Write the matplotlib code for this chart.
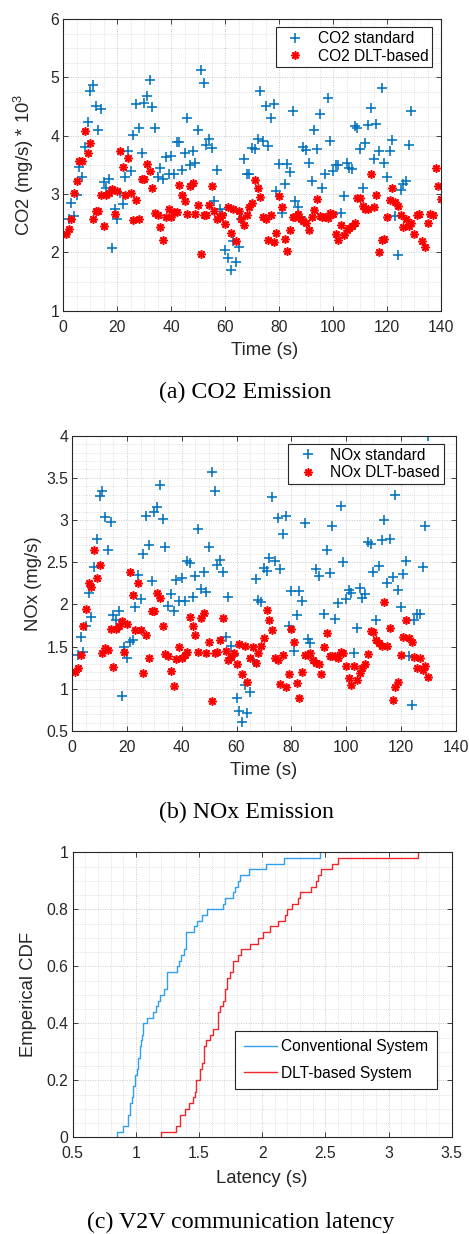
import numpy as np
import matplotlib
matplotlib.use('Agg')
import matplotlib.pyplot as plt
from matplotlib.ticker import MultipleLocator, FuncFormatter

plt.rcParams['font.family'] = ['Liberation Sans', 'DejaVu Sans']
plt.rcParams['mathtext.default'] = 'regular'

nan = float('nan')

# ---------------- (a) CO2 emission ----------------
t_co2_std = np.arange(2, 130)
co2_std = [2.57, 2.84, 2.63, 2.98, 3.47, 3.29, 3.81, 4.23, 4.77, 4.87,
           4.51, 4.09, 4.45, 3.20, 3.10, 3.25, 2.07, 2.74, 2.57, 3.02,
           2.83, 3.29, 3.73, 3.39, 4.01, 4.55, 4.13, 3.71, 4.56, 4.68,
           4.95, 4.49, 4.13, 3.29, 3.45, 3.25, 3.63, 3.34, 3.65, 3.34,
           3.89, 3.89, 3.42, 3.70, 4.31, 3.49, 3.74, 3.54, 4.10, 5.13,
           4.90, 3.84, 3.94, 3.79, 2.88, 3.41, 2.74, 2.65, 2.04, 1.91,
           1.69, 2.19, 1.84, 2.09, 2.57, 3.60, 3.35, 3.34, 3.79, 3.78,
           3.95, 4.77, 3.91, 4.51, 3.82, 4.30, 4.55, 3.06, 3.51, 2.67,
           3.17, 3.51, 3.37, 4.42, 2.88, 2.78, 2.61, 3.81, 3.75, 3.53,
           3.23, 4.09, 3.77, 4.37, 3.11, 3.34, 4.64, 3.91, 3.40, 3.50,
           3.49, 2.67, 2.97, 3.53, 3.44, 3.43, 4.17, 4.13, 3.77, 3.11,
           3.87, 4.19, 4.48, 3.60, 4.20, 3.74, 4.82, 3.53, 3.30, 3.74,
           3.93, 2.62, 1.95, 3.07, 3.17, 3.23, 3.84, 4.42]

t_co2_dlt = np.arange(1, 141)
co2_dlt = [2.32, 2.40, 2.57, 3.01, 3.23, 3.57, 3.57, 4.08, 3.71, 3.87,
           2.57, 2.71, 2.71, 2.98, 2.46, 2.98, 3.01, 3.08, 2.65, 3.05,
           3.74, 3.46, 2.98, 3.61, 3.01, 2.55, 2.89, 2.58, 3.25, 3.25,
           3.52, 3.40, 3.10, 2.67, 2.64, 2.44, 2.21, 2.60, 2.75, 2.60,
           2.70, 2.69, 3.16, 2.99, 2.88, 2.65, 3.13, 3.19, 2.65, 2.81,
           1.97, 2.64, 2.64, 2.82, 3.13, 2.71, 2.58, 2.60, 2.64, 2.48,
           2.77, 2.34, 2.75, 2.20, 2.71, 2.57, 2.47, 2.64, 2.77, 2.85,
           3.24, 3.10, 2.95, 2.60, 2.58, 2.21, 2.64, 2.17, 2.34, 2.97,
           2.78, 2.23, 2.02, 2.39, 2.61, 2.61, 2.65, 2.57, 2.53, 2.50,
           2.38, 2.61, 2.73, 2.91, 2.62, 2.60, 2.60, 2.59, 2.67, 2.66,
           2.31, 2.21, 2.47, 2.29, 2.38, 2.41, 2.46, 2.51, 2.93, 2.93,
           2.79, 2.75, 2.74, 3.34, 2.77, 2.98, 2.01, 2.21, 2.23, 2.61,
           2.90, 3.11, 2.86, 2.79, 2.64, 2.44, 2.58, 2.46, 2.50, 2.31,
           2.64, 2.65, 2.19, 2.10, 2.51, 2.66, 2.64, 3.44, 3.13, 2.91]

# ---------------- (b) NOx emission ----------------
t_nox_std = np.arange(2, 131)
nox_std = [1.40, 1.62, 1.44, 1.74, 2.14, 1.85, 2.44, 2.78, 3.29, 3.34,
           3.04, 2.65, 2.98, 1.87, 1.81, 1.92, 0.92, 1.50, 1.36, 1.55,
           1.58, 1.97, 2.35, 2.07, 2.60, 3.05, 2.70, 2.28, 3.10, 3.15,
           3.41, 3.01, 2.68, 1.98, 2.12, 1.92, 2.29, 2.04, 2.31, 2.04,
           2.51, 2.49, 2.09, 2.34, 2.89, 2.18, 2.38, 2.15, 2.68, 3.57,
           3.34, 2.47, 2.53, 2.39, 1.61, 2.09, 1.51, 1.40, 0.89, 0.74,
           0.61, 1.05, 0.71, 0.96, 1.34, 2.30, 2.05, 2.03, 2.43, 2.40,
           2.55, 3.27, 2.51, 3.03, 2.42, 2.83, 3.05, 1.75, 2.16, 1.45,
           1.88, 2.16, 2.04, 2.97, 1.59, 1.54, nan, 2.42, 2.34, nan,
           1.89, 2.64, 2.37, 2.93, 1.83, 2.02, 3.17, 2.50, 2.06, 2.17,
           2.14, 1.43, 1.72, 2.20, 2.08, 2.12, 2.74, 2.72, 2.38, 1.82,
           2.46, 2.76, 3.00, 2.25, 2.78, 2.33, 3.30, 2.17, 1.97, 2.36,
           2.51, 1.39, 0.81, 1.81, 1.89, 1.89, 2.44, 2.93, 4.00]

t_nox_dlt = np.arange(1, 131)
nox_dlt = [1.20, 1.25, 1.40, 1.75, 1.95, 2.25, 2.21, 2.64, 2.31, 2.47,
           1.43, 1.48, 1.46, 1.71, 1.26, 1.71, 1.75, 1.80, 1.44, 1.77,
           2.38, 2.11, 1.70, 2.26, 1.70, 1.19, 1.64, 1.37, 1.92, 1.92,
           2.14, 2.08, 1.75, 1.41, 1.39, 1.21, 1.03, 1.35, 1.50, 1.36,
           1.40, 1.44, 1.85, 1.74, 1.64, 1.44, 1.84, 1.90, 1.43, 1.55,
           0.85, 1.42, 1.44, 1.58, 1.84, 1.45, 1.34, 1.38, 1.43, 1.29,
           1.53, 1.17, 1.51, 1.08, 1.36, 1.49, 1.31, 1.43, 1.51, 1.60,
           1.94, 1.81, 1.70, 1.36, 1.34, 1.06, 1.40, 1.02, 1.18, 1.71,
           1.55, 1.07, 0.89, 1.20, 1.40, 1.40, 1.42, 1.34, 1.31, 1.29,
           1.18, 1.50, 1.66, 1.39, 1.39, 1.39, 1.37, 1.44, 1.42, 1.27,
           1.13, 1.05, 1.27, 1.11, 1.19, 1.25, 1.30, 1.41, 1.68, 1.67,
           1.58, 1.54, 1.51, 2.03, 1.51, 1.72, 0.87, 1.02, 1.08, 1.40,
           1.62, 1.81, 1.60, 1.55, 1.38, 1.25, 1.36, 1.22, 1.27, 1.14]

# ---------------- (c) V2V latency samples ----------------
lat_conv = [0.854, 0.897, 0.934, 0.934, 0.955, 0.955, 0.968, 0.981, 0.981, 0.995,
            0.995, 1.008, 1.020, 1.020, 1.030, 1.030, 1.040, 1.047, 1.056, 1.056,
            1.090, 1.132, 1.156, 1.172, 1.193, 1.220, 1.246, 1.246, 1.246, 1.325,
            1.339, 1.357, 1.378, 1.400, 1.400, 1.400, 1.458, 1.484, 1.524, 1.563,
            1.690, 1.709, 1.770, 1.788, 1.807, 1.828, 1.898, 2.034, 2.171, 2.457]
lat_dlt = [1.201, 1.320, 1.352, 1.352, 1.388, 1.420, 1.455, 1.468, 1.479, 1.479,
           1.505, 1.505, 1.524, 1.542, 1.542, 1.542, 1.558, 1.585, 1.611, 1.648,
           1.648, 1.648, 1.669, 1.690, 1.706, 1.706, 1.722, 1.722, 1.749, 1.765,
           1.765, 1.810, 1.834, 1.900, 1.963, 2.007, 2.065, 2.124, 2.179, 2.200,
           2.237, 2.280, 2.303, 2.383, 2.423, 2.441, 2.462, 2.555, 2.600, 3.230]

# ---------------- figure ----------------
W, H = 469, 1234
fig = plt.figure(figsize=(W / 100, H / 100), dpi=100)
AX_C = '#262626'
TICK_FS = 11.3
LAB_FS = 13.3
LEG_FS = 11.2
CAP_FS = 17.2
BLUE = '#0072BD'


def axes_px(l, t, r, b):
    return fig.add_axes([l / W, 1 - b / H, (r - l) / W, (b - t) / H])


gfmt = FuncFormatter(lambda v, p: f'{v:g}')


def style(ax, xmaj, xmin, ymaj, ymin):
    ax.xaxis.set_major_locator(MultipleLocator(xmaj))
    ax.xaxis.set_minor_locator(MultipleLocator(xmin))
    ax.yaxis.set_major_locator(MultipleLocator(ymaj))
    ax.yaxis.set_minor_locator(MultipleLocator(ymin))
    ax.xaxis.set_major_formatter(gfmt)
    ax.yaxis.set_major_formatter(gfmt)
    ax.set_axisbelow(True)
    ax.grid(which='major', color='#c8c8c8', linestyle=(0, (1, 1.5)), linewidth=0.7)
    ax.grid(which='minor', color='#d6d6d6', linestyle=(0, (1, 1.5)), linewidth=0.6)
    ax.tick_params(which='major', direction='in', length=3.4, width=0.6,
                   top=True, right=True, labelsize=TICK_FS, colors=AX_C)
    ax.tick_params(which='minor', length=0, top=True, right=True)
    ax.tick_params(axis='x', pad=6.5)
    ax.tick_params(axis='y', pad=3)
    for s in ax.spines.values():
        s.set_color(AX_C)
        s.set_linewidth(0.8)


def legend(ax, anchor, **kw):
    leg = ax.legend(loc='upper left', bbox_to_anchor=anchor, borderaxespad=0,
                    fontsize=LEG_FS, frameon=True, fancybox=False, edgecolor=AX_C,
                    framealpha=1, numpoints=1, **kw)
    leg.get_frame().set_linewidth(0.8)
    for txt in leg.get_texts():
        txt.set_color('black')
    return leg


# (a)
ax1 = axes_px(63.3, 19, 441, 310.7)
style(ax1, 20, 5, 1, 0.25)
ax1.plot(t_co2_std, co2_std, ls='none', marker='+', ms=6.5, mew=1.15,
         color=BLUE, label='CO2 standard')
ax1.plot(t_co2_dlt, co2_dlt, ls='none', marker=(8, 2, 0), ms=6.0, mew=1.15,
         color='red', label='CO2 DLT-based')
ax1.set_xlim(0, 140)
ax1.set_ylim(1, 6)
ax1.set_xlabel('Time (s)', fontsize=LAB_FS, color=AX_C)
ax1.xaxis.set_label_coords(0.534, -0.107)
ax1.set_ylabel('CO2 (mg/s) * 10$^3$', fontsize=LAB_FS, color=AX_C)
ax1.yaxis.set_label_coords(-0.072, 0.5)
legend(ax1, (0.5623, 0.9716), borderpad=0.25, handlelength=2.0,
       handletextpad=0.45, labelspacing=0.15)

# (b)
ax2 = axes_px(72.3, 435.7, 455.5, 731)
style(ax2, 20, 5, 0.5, 0.1)
ax2.plot(t_nox_std, nox_std, ls='none', marker='+', ms=6.5, mew=1.15,
         color=BLUE, label='NOx standard')
ax2.plot(t_nox_dlt, nox_dlt, ls='none', marker=(8, 2, 0), ms=6.0, mew=1.15,
         color='red', label='NOx DLT-based')
ax2.set_xlim(0, 140)
ax2.set_ylim(0.5, 4)
ax2.set_xlabel('Time (s)', fontsize=LAB_FS, color=AX_C)
ax2.xaxis.set_label_coords(0.5, -0.105)
ax2.set_ylabel('NOx (mg/s)', fontsize=LAB_FS, color=AX_C)
ax2.yaxis.set_label_coords(-0.079, 0.5)
legend(ax2, (0.5637, 0.9719), borderpad=0.25, handlelength=2.0,
       handletextpad=0.45, labelspacing=0.15)

# (c)
ax3 = axes_px(72.7, 852.3, 451.7, 1137.3)
style(ax3, 0.5, 0.1, 0.2, 0.05)


def ecdf_step(ax, samples, **kw):
    x = np.sort(np.asarray(samples))
    y = np.arange(1, len(x) + 1) / len(x)
    xs = np.concatenate([[x[0]], x])
    ys = np.concatenate([[0.0], y])
    ax.step(xs, ys, where='post', **kw)


ecdf_step(ax3, lat_conv, color='#2f9ff2', lw=1.0, label='Conventional System')
ecdf_step(ax3, lat_dlt, color='#f0262a', lw=1.0, label='DLT-based System')
ax3.set_xlim(0.5, 3.5)
ax3.set_ylim(0, 1)
ax3.set_xlabel('Latency (s)', fontsize=LAB_FS, color=AX_C)
ax3.xaxis.set_label_coords(0.5, -0.115)
ax3.set_ylabel('Emperical CDF', fontsize=LAB_FS, color=AX_C)
ax3.yaxis.set_label_coords(-0.093, 0.5)
legend(ax3, (0.4282, 0.374), borderpad=0.55, handlelength=2.15,
       handletextpad=0.25, labelspacing=0.75)

# captions
cap = dict(ha='center', va='center', family=['Liberation Serif', 'DejaVu Serif'],
           fontsize=CAP_FS, color='black')
fig.text(244.7 / W, 1 - 392.3 / H, '(a) CO2 Emission', **cap)
fig.text(246 / W, 1 - 812.5 / H, '(b) NOx Emission', **cap)
fig.text(241 / W, 1 - 1222.7 / H, '(c) V2V communication latency', **cap)

fig.savefig('out.png', dpi=100)
